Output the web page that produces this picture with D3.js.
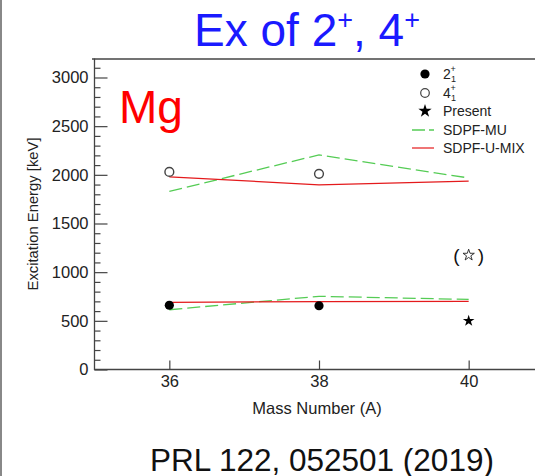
<!DOCTYPE html>
<html>
<head>
<meta charset="utf-8">
<script src="https://cdn.jsdelivr.net/npm/d3@7"></script>
<style>
  html, body { margin: 0; padding: 0; background: #fff; }
  svg { display: block; font-family: "Liberation Sans", Arial, Helvetica, sans-serif; }
</style>
</head>
<body>
<svg id="chart" width="535" height="476"></svg>
<script>
// Mass numbers of the Mg isotopes
const massNumbers = [36, 38, 40];
const xTicks = [36, 38, 40];
const yMajorTicks = [0, 500, 1000, 1500, 2000, 2500, 3000];
const yMinorTicks = d3.range(0, 3200, 100).filter(v => v % 500 !== 0);

// Measured levels (keV)
const exp2plus = [{ a: 36, e: 660 }, { a: 38, e: 655 }];
const exp4plus = [{ a: 36, e: 2030 }, { a: 38, e: 2010 }];
const present2plus = [{ a: 40, e: 500 }];
const presentTentative = [{ a: 40, e: 1175 }];

// Shell-model calculations (keV)
const sdpfMu2 = [614, 752, 720];
const sdpfMu4 = [1830, 2205, 1968];
const sdpfUMix2 = [690, 697, 700];
const sdpfUMix4 = [1980, 1897, 1935];

const svg = d3.select("#chart");

const x = d3.scaleLinear().domain([35, 41]).range([94.5, 543.5]);
const y = d3.scaleLinear().domain([0, 3190]).range([369.5, 59]);

const axisColor = "#444";
const green = "#55cc55";
const red = "#e41a1c";
const fmt = d3.format("d");

// Page edge on the left
svg.append("line").attr("x1", 1).attr("x2", 1).attr("y1", 0).attr("y2", 476)
  .attr("stroke", "#888").attr("stroke-width", 2);

// Title
const title = svg.append("text").attr("x", 307).attr("y", 46)
  .attr("text-anchor", "middle").attr("fill", "#1a1aff")
  .attr("font-size", 46);
title.append("tspan").text("Ex of 2");
title.append("tspan").attr("font-size", 27).attr("dy", -17).text("+");
title.append("tspan").attr("dy", 17).text(", 4");
title.append("tspan").attr("font-size", 27).attr("dy", -17).text("+");

// Frame
svg.append("line").attr("x1", 92).attr("x2", 535).attr("y1", 59).attr("y2", 59)
  .attr("stroke", axisColor).attr("stroke-width", 1.3);
svg.append("line").attr("x1", 94.5).attr("x2", 94.5).attr("y1", 58.5).attr("y2", 370)
  .attr("stroke", axisColor).attr("stroke-width", 1.3);
svg.append("line").attr("x1", 94).attr("x2", 535).attr("y1", 369.5).attr("y2", 369.5)
  .attr("stroke", axisColor).attr("stroke-width", 1.3);

// Y axis
const yMinor = svg.append("g").attr("transform", "translate(94.5,0)")
  .call(d3.axisLeft(y).tickValues(yMinorTicks).tickSize(-6).tickFormat(""));
const yMajor = svg.append("g").attr("transform", "translate(94.5,0)")
  .call(d3.axisLeft(y).tickValues(yMajorTicks).tickSize(-13).tickPadding(6).tickFormat(fmt));
[yMinor, yMajor].forEach(g => {
  g.select(".domain").remove();
  g.selectAll(".tick line").attr("stroke", axisColor).attr("stroke-width", 1.2);
});
yMajor.selectAll(".tick text").attr("font-size", 16.5).attr("fill", "#222")
  .attr("font-family", "Liberation Sans, Arial, sans-serif");

// X axis
const xAxis = svg.append("g").attr("transform", "translate(0,369.5)")
  .call(d3.axisBottom(x).tickValues(xTicks).tickSize(-9).tickPadding(5.5).tickFormat(fmt));
xAxis.select(".domain").remove();
xAxis.selectAll(".tick line").attr("stroke", axisColor).attr("stroke-width", 1.2);
xAxis.selectAll(".tick text").attr("font-size", 16.5).attr("fill", "#222")
  .attr("font-family", "Liberation Sans, Arial, sans-serif");

// Axis titles
svg.append("text").attr("x", 317).attr("y", 413.5).attr("text-anchor", "middle")
  .attr("font-size", 16.5).attr("fill", "#222").text("Mass Number (A)");
svg.append("text").attr("transform", "translate(38,214) rotate(-90)")
  .attr("text-anchor", "middle").attr("font-size", 14.8).attr("fill", "#222")
  .text("Excitation Energy [keV]");

// Element label
svg.append("text").attr("x", 119).attr("y", 123).attr("fill", "#ff0000")
  .attr("font-size", 46).text("Mg");

// Calculated lines
const line = d3.line().x((d, i) => x(massNumbers[i])).y(d => y(d));
[sdpfMu4, sdpfMu2].forEach(s => {
  svg.append("path").datum(s).attr("d", line).attr("fill", "none")
    .attr("stroke", green).attr("stroke-width", 1.3).attr("stroke-dasharray", "13,5");
});
[sdpfUMix4, sdpfUMix2].forEach(s => {
  svg.append("path").datum(s).attr("d", line).attr("fill", "none")
    .attr("stroke", red).attr("stroke-width", 1.2);
});

// Measured points
svg.selectAll(".p2").data(exp2plus).join("circle")
  .attr("cx", d => x(d.a)).attr("cy", d => y(d.e)).attr("r", 4.6).attr("fill", "#000");
svg.selectAll(".p4").data(exp4plus).join("circle")
  .attr("cx", d => x(d.a)).attr("cy", d => y(d.e)).attr("r", 4.4)
  .attr("fill", "#fff").attr("stroke", "#444").attr("stroke-width", 1.4);

const star = d3.symbol().type(d3.symbolStar);
svg.selectAll(".ps").data(present2plus).join("path")
  .attr("transform", d => `translate(${x(d.a)},${y(d.e)})`)
  .attr("d", star.size(42)()).attr("fill", "#000");
const tent = svg.selectAll(".pt").data(presentTentative).join("g")
  .attr("transform", d => `translate(${x(d.a)},${y(d.e)})`);
tent.append("path").attr("d", star.size(40)()).attr("fill", "none")
  .attr("stroke", "#222").attr("stroke-width", 0.9);
tent.append("text").attr("x", -9).attr("y", 6.5).attr("text-anchor", "end")
  .attr("font-size", 19).attr("fill", "#111").text("(");
tent.append("text").attr("x", 9).attr("y", 6.5).attr("text-anchor", "start")
  .attr("font-size", 19).attr("fill", "#111").text(")");

// Legend
const lg = svg.append("g");
const lx = 425, tx = 443;
lg.append("circle").attr("cx", lx).attr("cy", 74).attr("r", 4.6).attr("fill", "#000");
lg.append("circle").attr("cx", lx).attr("cy", 93).attr("r", 4.3)
  .attr("fill", "#fff").attr("stroke", "#444").attr("stroke-width", 1.2);
lg.append("path").attr("transform", `translate(${lx},111)`)
  .attr("d", star.size(55)()).attr("fill", "#000");
lg.append("line").attr("x1", 412).attr("x2", 434).attr("y1", 130).attr("y2", 130)
  .attr("stroke", green).attr("stroke-width", 1.3).attr("stroke-dasharray", "13,4");
lg.append("line").attr("x1", 412).attr("x2", 434).attr("y1", 148).attr("y2", 148)
  .attr("stroke", red).attr("stroke-width", 1.2);

function levelLabel(n, yb) {
  lg.append("text").attr("x", tx).attr("y", yb).attr("font-size", 14).attr("fill", "#222").text(n);
  lg.append("text").attr("x", tx + 7.5).attr("y", yb - 7).attr("font-size", 9).attr("fill", "#222").text("+");
  lg.append("text").attr("x", tx + 8).attr("y", yb + 2.5).attr("font-size", 9).attr("fill", "#222").text("1");
}
levelLabel("2", 79);
levelLabel("4", 98);
lg.append("text").attr("x", tx).attr("y", 115.5).attr("font-size", 14).attr("fill", "#222").text("Present");
lg.append("text").attr("x", tx).attr("y", 134.5).attr("font-size", 14).attr("fill", "#222").text("SDPF-MU");
lg.append("text").attr("x", tx).attr("y", 152.5).attr("font-size", 14).attr("fill", "#222").text("SDPF-U-MIX");

// Reference
svg.append("text").attr("x", 322).attr("y", 470.5).attr("text-anchor", "middle")
  .attr("font-size", 31.5).attr("fill", "#111").text("PRL 122, 052501 (2019)");
</script>
</body>
</html>
